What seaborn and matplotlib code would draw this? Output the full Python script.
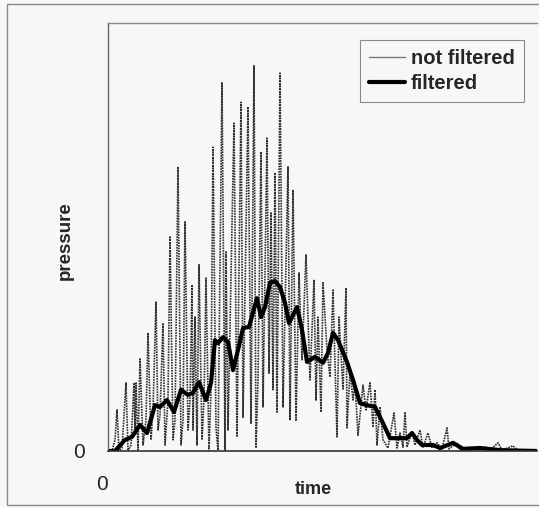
import matplotlib
matplotlib.use("Agg")
import matplotlib.pyplot as plt
import seaborn as sns
import pandas as pd
from matplotlib.patches import Rectangle

# ---- data ----
raw_time = [0, 4, 7, 9, 11, 14, 18, 20, 23, 26, 27, 28, 30, 32, 35, 38, 40, 43, 45, 48,
            50, 52, 55, 57, 60, 62, 65, 67, 70, 73, 75, 77, 80, 82, 84, 85, 87, 89, 91, 94,
            96, 98, 101, 103, 105, 108, 110, 114, 117, 118, 120, 126, 129, 133, 135, 140, 143, 146, 148, 150,
            153, 155, 159, 161, 163, 165, 167, 169, 172, 175, 180, 182, 185, 188, 191, 194, 198, 202, 206, 208,
            210, 213, 215, 219, 222, 225, 229, 231, 235, 238, 239, 242, 245, 247, 250, 255, 258, 262, 265, 267,
            269, 272, 275, 280, 286, 289, 292, 295, 297, 299, 304, 307, 312, 315, 320, 324, 329, 334, 339, 341,
            349, 352, 365, 369, 379, 382, 390, 394, 405, 409, 429]
raw_pressure = [0, 0, 2.6, 9.6, 0, 0.7, 15.9, 0, 1.4, 15.9, 4.9, 15.9, 0.2, 21.7, 1.4, 7.2, 27.6, 2.6, 9.6, 34.8,
                4.9, 8.4, 29.9, 1.4, 11.9, 50.2, 2.6, 7.2, 66.4, 1.4, 7.2, 53.7, 4.9, 11.9, 38.8, 4.9, 31.3, 1.4, 43.5, 2.6,
                11.9, 40.4, 0, 14.3, 71.0, 5.4, 0.2, 86.2, 0.2, 46.5, 4.9, 76.6, 3.3, 81.5, 7.9, 80.4, 6.5, 90.0, 0.7, 16.6,
                69.9, 10.3, 73.1, 18.2, 55.8, 14.3, 65.0, 8.9, 88.3, 10.3, 66.4, 7.2, 61.0, 7.2, 41.6, 21.3, 45.8, 16.6, 40.0, 11.9,
                31.3, 9.1, 39.3, 23.6, 17.3, 37.6, 3.3, 31.3, 14.3, 38.1, 5.4, 18.9, 11.9, 16.1, 3.7, 15.4, 9.6, 16.1, 5.6, 14.3,
                1.4, 10.3, 2.6, 0.7, 8.9, 0.7, 4.2, 0.9, 9.1, 0.9, 4.4, 1.4, 4.9, 0.9, 4.2, 0.7, 1.9, 0.5, 5.4, 0.5,
                1.9, 0.2, 0.9, 0.2, 0.9, 0.2, 1.9, 0.2, 1.2, 0.2, 0]

filt_time = [0, 7, 17, 24, 32, 39, 47, 52, 59, 66, 73, 80, 85, 91, 98, 103, 107, 110, 115, 120,
             125, 130, 135, 141, 149, 153, 157, 162, 167, 172, 177, 181, 189, 194, 199, 207, 215, 220, 225, 230,
             239, 245, 252, 259, 267, 275, 282, 292, 299, 304, 309, 314, 325, 332, 345, 355, 372, 392, 429]
filt_pressure = [0, 0, 2.6, 3.3, 6.1, 4.2, 10.7, 10.3, 11.9, 9.1, 14.3, 13.1, 13.6, 16.1, 11.9, 15.9, 25.9, 25.2, 26.6, 25.5,
                 18.9, 23.6, 28.7, 29.0, 35.7, 31.3, 33.6, 39.3, 39.7, 38.3, 34.6, 29.9, 33.6, 28.3, 20.8, 22.0, 20.6, 22.9, 27.6, 25.9,
                 20.8, 16.6, 11.2, 10.7, 10.3, 6.5, 3.0, 3.0, 3.0, 4.2, 2.6, 1.4, 1.4, 0.7, 1.9, 0.5, 0.7, 0.2, 0]

series_labels = ["not filtered", "filtered"]
x_tick_labels = ["0"]
y_tick_labels = ["0"]

df_raw = pd.DataFrame({"time": raw_time, "pressure": raw_pressure})
df_filt = pd.DataFrame({"time": filt_time, "pressure": filt_pressure})

sns.set_theme(style="white")
plt.rcParams["font.family"] = ["Liberation Sans", "DejaVu Sans"]

bg = "#f7f7f5"
fig = plt.figure(figsize=(5.39, 5.07), dpi=100, facecolor=bg)
ax = fig.add_axes([108 / 539, 1 - 451 / 507, 429 / 539, 428 / 507])
ax.set_facecolor(bg)

sns.lineplot(data=df_raw, x="time", y="pressure", ax=ax, color="#2e2e2e",
             linewidth=1.2, linestyle=(0, (1, 0.6)), label=series_labels[0], sort=False)
sns.lineplot(data=df_filt, x="time", y="pressure", ax=ax, color="black",
             linewidth=3.0, label=series_labels[1], sort=False)

ax.set_xlim(0, 429)
ax.set_ylim(0, 100)

ax.set_xticks([0])
ax.set_xticklabels(x_tick_labels, fontsize=15)
ax.set_yticks([0])
ax.set_yticklabels(y_tick_labels, fontsize=15)
ax.tick_params(axis="x", length=0, pad=17)
ax.tick_params(axis="y", length=0, pad=17)
for lab in ax.get_xticklabels():
    lab.set_horizontalalignment("right")

ax.set_xlabel("time", fontsize=13, fontweight="bold")
ax.set_ylabel("pressure", fontsize=13.5, fontweight="bold")
ax.xaxis.set_label_coords((313 - 108) / 429, -(490 - 451) / 428)
ax.xaxis.label.set_verticalalignment("center")
ax.yaxis.set_label_coords(-(108 - 65) / 429, (451 - 241) / 428)
ax.yaxis.label.set_verticalalignment("center")

ax.spines["left"].set_color("#666666")
ax.spines["left"].set_linestyle((0, (1, 1)))
ax.spines["left"].set_linewidth(1.0)
ax.spines["top"].set_color("#8a8a8a")
ax.spines["top"].set_linewidth(1.0)
ax.spines["right"].set_visible(False)
ax.spines["bottom"].set_color("#333333")
ax.spines["bottom"].set_linewidth(1.2)

leg = ax.legend(loc="upper right", bbox_to_anchor=((524 - 108) / 429, (451 - 40) / 428),
                borderaxespad=0,
                prop={"family": ["Liberation Sans"], "weight": "bold", "size": 14.5},
                handlelength=1.8, handletextpad=0.3, borderpad=0.45, labelspacing=0.3,
                frameon=True, fancybox=False, framealpha=1)
leg.get_frame().set_edgecolor("#8a8a8a")
leg.get_frame().set_facecolor(bg)
leg.get_frame().set_linewidth(0.8)
leg.get_lines()[0].set_linestyle("-")
leg.get_lines()[0].set_color("#777777")
leg.get_lines()[0].set_linewidth(1.0)

# outer chart border
fig.patches.append(Rectangle((7 / 539, 1 - 505 / 507), 540 / 539, 501 / 507,
                             transform=fig.transFigure, fill=False,
                             edgecolor="#8a8a8a", linewidth=1.0))

fig.savefig("out.png", dpi=100, facecolor=bg)
